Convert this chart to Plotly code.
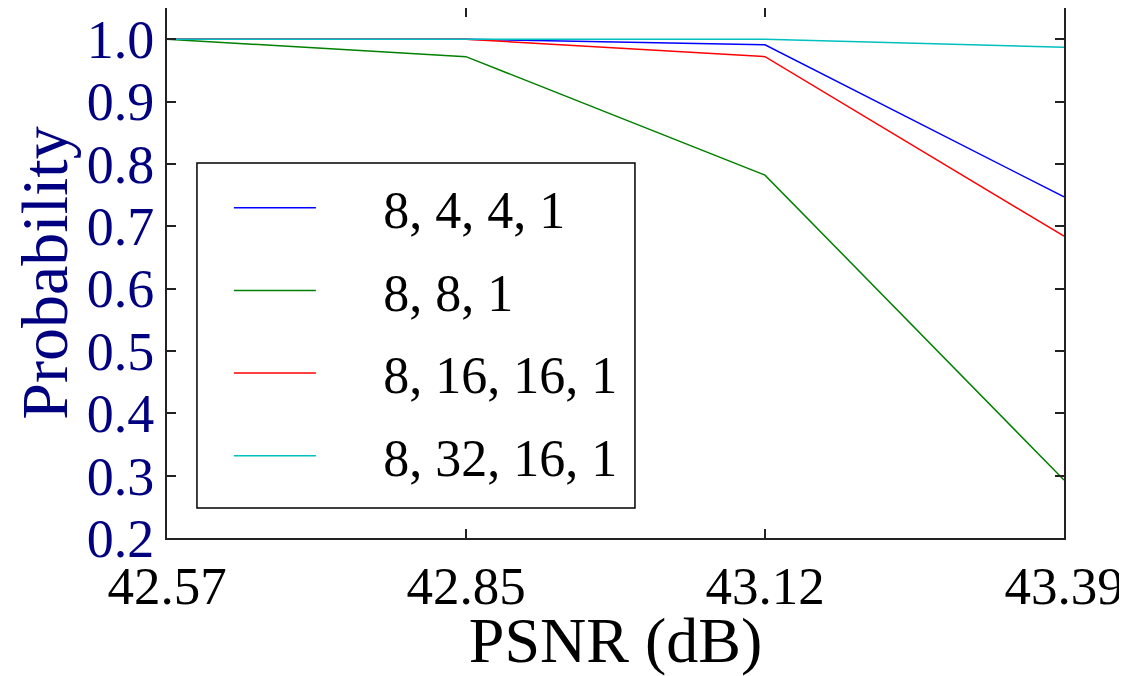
import plotly.graph_objects as go

psnr = ["42.57", "42.85", "43.12", "43.39"]
series_names = ["8, 4, 4, 1", "8, 8, 1", "8, 16, 16, 1", "8, 32, 16, 1"]
p_8_4_4_1 = [1.0, 1.0, 0.991, 0.747]
p_8_8_1 = [1.0, 0.972, 0.782, 0.293]
p_8_16_16_1 = [1.0, 1.0, 0.972, 0.684]
p_8_32_16_1 = [1.0, 1.0, 1.0, 0.987]
y_ticks = [0.2, 0.3, 0.4, 0.5, 0.6, 0.7, 0.8, 0.9, 1.0]

colors = ["#0000ff", "#008000", "#ff0000", "#00bfbf"]
values = [p_8_4_4_1, p_8_8_1, p_8_16_16_1, p_8_32_16_1]

FONT = "Liberation Serif"
NAVY = "#000080"
PAD = "\u00a0" * 4 + "\u2009"

fig = go.Figure()
for i, (name, vals, col) in enumerate(zip(series_names, values, colors)):
    fig.add_trace(go.Scatter(x=psnr, y=vals, mode="lines", name=PAD + name,
                             legendgroup=f"g{i}",
                             line=dict(color=col, width=1.5)))

fig.update_layout(
    width=1119, height=668,
    margin=dict(l=159, r=63, t=0, b=138),
    paper_bgcolor="white", plot_bgcolor="white",
    font=dict(family=FONT, color="black"),
    showlegend=True,
    legend=dict(x=0.069, y=0.699, xanchor="left", yanchor="top",
                borderwidth=0, bgcolor="rgba(0,0,0,0)",
                traceorder="grouped", tracegroupgap=12,
                font=dict(family=FONT, size=52, color="black"),
                itemwidth=82),
    shapes=[dict(type="rect", xref="paper", yref="paper",
                 x0=0.0334, x1=0.5217, y0=0.0566, y1=0.7075,
                 line=dict(color="black", width=1.5), fillcolor="white",
                 layer="above")],
    xaxis=dict(type="category", range=[0, 3], automargin=False,
               showline=True, linecolor="#222222", linewidth=2, mirror="ticks",
               ticks="inside", ticklen=9, tickwidth=1.5, tickcolor="#222222",
               showgrid=False, zeroline=False,
               tickfont=dict(family=FONT, size=53, color="black"),
               title=dict(text="PSNR (dB)", font=dict(family=FONT, size=64, color="black"),
                          standoff=16)),
    yaxis=dict(range=[0.2, 1.05], tickvals=y_ticks, automargin=False,
               ticktext=[f"{v:.1f}" for v in y_ticks],
               showline=True, linecolor="#222222", linewidth=2, mirror="ticks",
               ticks="inside", ticklen=9, tickwidth=1.5, tickcolor="#222222",
               showgrid=False, zeroline=False,
               tickfont=dict(family=FONT, size=54, color=NAVY),
               title=dict(text="Probability", font=dict(family=FONT, size=66, color=NAVY),
                          standoff=6)),
)

fig.write_html("out.html")
